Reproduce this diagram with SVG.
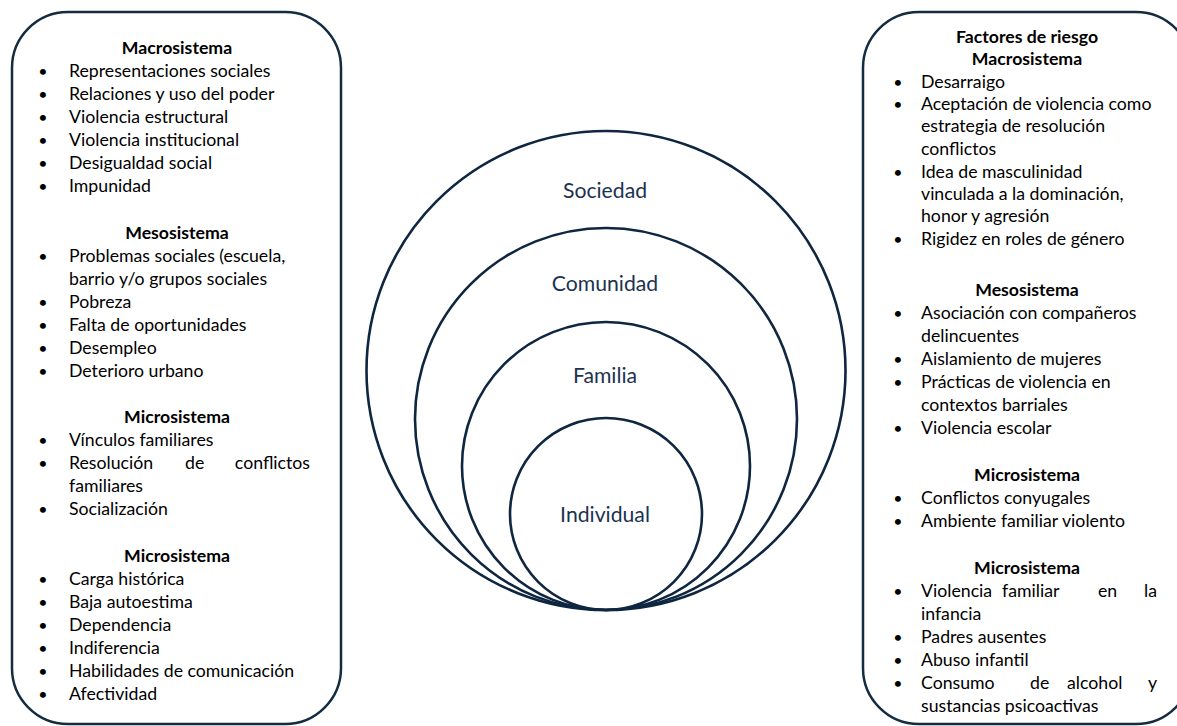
<svg xmlns="http://www.w3.org/2000/svg" width="1177" height="726" viewBox="0 0 1177 726">
<style>
.box{fill:#fff;stroke:#142c40;stroke-width:2.5}
.ring{fill:none;stroke:#0f2640;stroke-width:2.6}
.t{font-family:Lato,"Liberation Sans",sans-serif;font-size:17.7px;fill:#000}
.h{font-family:Lato,"Liberation Sans",sans-serif;font-size:17.7px;font-weight:bold;fill:#000;text-anchor:middle}
.b{font-family:Lato,"Liberation Sans",sans-serif;font-size:16px;fill:#000;text-anchor:middle}
.c{font-family:Lato,"Liberation Sans",sans-serif;font-size:21.2px;fill:#1b3350;text-anchor:middle}
</style>
<rect width="1177" height="726" fill="#fff"/>
<g id="left-box">
<rect class="box" x="12" y="12" width="329" height="712" rx="56" ry="56"/>
<text class="h" x="177" y="54">Macrosistema</text>
<g class="b"><text x="43" y="77">•</text><text x="43" y="100">•</text><text x="43" y="123">•</text><text x="43" y="146">•</text><text x="43" y="169">•</text><text x="43" y="192">•</text></g>
<text class="t" x="69" y="77">Representaciones sociales</text>
<text class="t" x="69" y="100">Relaciones y uso del poder</text>
<text class="t" x="69" y="123">Violencia estructural</text>
<text class="t" x="69" y="146">Violencia institucional</text>
<text class="t" x="69" y="169">Desigualdad social</text>
<text class="t" x="69" y="192">Impunidad</text>
<text class="h" x="177" y="239">Mesosistema</text>
<g class="b"><text x="43" y="262">•</text><text x="43" y="308">•</text><text x="43" y="331">•</text><text x="43" y="354">•</text><text x="43" y="377">•</text></g>
<text class="t" x="69" y="262">Problemas sociales (escuela,</text>
<text class="t" x="69" y="285">barrio y/o grupos sociales</text>
<text class="t" x="69" y="308">Pobreza</text>
<text class="t" x="69" y="331">Falta de oportunidades</text>
<text class="t" x="69" y="354">Desempleo</text>
<text class="t" x="69" y="377">Deterioro urbano</text>
<text class="h" x="177" y="423">Microsistema</text>
<g class="b"><text x="43" y="446">•</text><text x="43" y="469">•</text><text x="43" y="515">•</text></g>
<text class="t" x="69" y="446">Vínculos familiares</text>
<text class="t" x="69" y="469">Resolución</text>
<text class="t" x="185" y="469">de</text>
<text class="t" x="310" y="469" text-anchor="end">conflictos</text>
<text class="t" x="69" y="492">familiares</text>
<text class="t" x="69" y="515">Socialización</text>
<text class="h" x="177" y="562">Microsistema</text>
<g class="b"><text x="43" y="585">•</text><text x="43" y="608">•</text><text x="43" y="631">•</text><text x="43" y="654">•</text><text x="43" y="677">•</text><text x="43" y="700">•</text></g>
<text class="t" x="69" y="585">Carga histórica</text>
<text class="t" x="69" y="608">Baja autoestima</text>
<text class="t" x="69" y="631">Dependencia</text>
<text class="t" x="69" y="654">Indiferencia</text>
<text class="t" x="69" y="677">Habilidades de comunicación</text>
<text class="t" x="69" y="700">Afectividad</text>
</g>
<g id="sociedad">
<circle class="ring" cx="606" cy="370.5" r="239.5"/>
<text class="c" x="605" y="198">Sociedad</text>
</g>
<g id="comunidad">
<circle class="ring" cx="606" cy="419" r="191"/>
<text class="c" x="605" y="291">Comunidad</text>
</g>
<g id="familia">
<circle class="ring" cx="606" cy="466" r="144"/>
<text class="c" x="605" y="383">Familia</text>
</g>
<g id="individual">
<circle class="ring" cx="606" cy="514" r="96"/>
<text class="c" x="605" y="522">Individual</text>
</g>
<g id="right-box">
<rect class="box" x="863" y="12" width="329" height="712" rx="56" ry="56"/>
<text class="h" x="1027" y="42.5">Factores de riesgo</text>
<text class="h" x="1027" y="65">Macrosistema</text>
<g class="b"><text x="898" y="88">•</text><text x="898" y="110">•</text><text x="898" y="178">•</text><text x="898" y="245">•</text></g>
<text class="t" x="921" y="88">Desarraigo</text>
<text class="t" x="921" y="110">Aceptación de violencia como</text>
<text class="t" x="921" y="132">estrategia de resolución</text>
<text class="t" x="921" y="155">conflictos</text>
<text class="t" x="921" y="178">Idea de masculinidad</text>
<text class="t" x="921" y="200">vinculada a la dominación,</text>
<text class="t" x="921" y="222">honor y agresión</text>
<text class="t" x="921" y="245">Rigidez en roles de género</text>
<text class="h" x="1027" y="296">Mesosistema</text>
<g class="b"><text x="898" y="319">•</text><text x="898" y="365">•</text><text x="898" y="388">•</text><text x="898" y="434">•</text></g>
<text class="t" x="921" y="319">Asociación con compañeros</text>
<text class="t" x="921" y="342">delincuentes</text>
<text class="t" x="921" y="365">Aislamiento de mujeres</text>
<text class="t" x="921" y="388">Prácticas de violencia en</text>
<text class="t" x="921" y="411">contextos barriales</text>
<text class="t" x="921" y="434">Violencia escolar</text>
<text class="h" x="1027" y="481">Microsistema</text>
<g class="b"><text x="898" y="504">•</text><text x="898" y="527">•</text></g>
<text class="t" x="921" y="504">Conflictos conyugales</text>
<text class="t" x="921" y="527">Ambiente familiar violento</text>
<text class="h" x="1027" y="574">Microsistema</text>
<g class="b"><text x="898" y="597">•</text><text x="898" y="643">•</text><text x="898" y="666">•</text><text x="898" y="689">•</text></g>
<text class="t" x="921" y="597">Violencia</text>
<text class="t" x="1002" y="597">familiar</text>
<text class="t" x="1098" y="597">en</text>
<text class="t" x="1157" y="597" text-anchor="end">la</text>
<text class="t" x="921" y="620">infancia</text>
<text class="t" x="921" y="643">Padres ausentes</text>
<text class="t" x="921" y="666">Abuso infantil</text>
<text class="t" x="921" y="689">Consumo</text>
<text class="t" x="1030" y="689">de</text>
<text class="t" x="1067" y="689">alcohol</text>
<text class="t" x="1157" y="689" text-anchor="end">y</text>
<text class="t" x="921" y="712">sustancias psicoactivas</text>
</g>
</svg>
